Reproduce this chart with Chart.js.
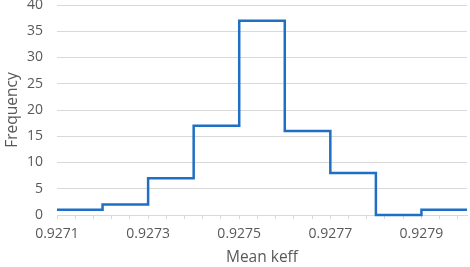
<!DOCTYPE html>
<html><head><meta charset="utf-8">
<script src="https://cdn.jsdelivr.net/npm/chart.js@4/dist/chart.umd.min.js"></script>
<style>html,body{margin:0;padding:0;background:#fff}#wrap{width:470px;height:267px}</style>
</head><body><div id="wrap"><canvas id="c"></canvas></div>
<script>
// Bin lower edges (Mean keff) and counts (Frequency)
const binEdges = [0.9271, 0.9272, 0.9273, 0.9274, 0.9275, 0.9276, 0.9277, 0.9278, 0.9279, 0.9280];
const counts   = [1, 2, 7, 17, 37, 16, 8, 0, 1];
const xMajorTicks = [0.9271, 0.9273, 0.9275, 0.9277, 0.9279];
const yTicks = [0, 5, 10, 15, 20, 25, 30, 35, 40];

// step points: value of each bin held until its right edge
const stepData = binEdges.map((x, i) => ({x: x, y: counts[Math.min(i, counts.length - 1)]}));

const FONT = "'Open Sans', 'Noto Sans', sans-serif";
new Chart(document.getElementById('c'), {
  type: 'line',
  data: { datasets: [{
    data: stepData, stepped: 'before', borderColor: '#1F6FC5', borderWidth: 2.5,
    pointRadius: 0, fill: false, clip: false
  }]},
  options: {
    responsive: true, maintainAspectRatio: false, animation: false,
    layout: { padding: { top: 5, right: 3, left: 0, bottom: 0 } },
    plugins: { legend: { display: false }, tooltip: { enabled: false } },
    scales: {
      x: {
        type: 'linear', min: binEdges[0], max: binEdges[binEdges.length - 1],
        afterBuildTicks: s => {
          const t = [];
          const step = (xMajorTicks[1] - xMajorTicks[0]) / 5;
          for (let i = 0; xMajorTicks[0] + i * step <= s.max + 1e-9; i++) t.push({ value: xMajorTicks[0] + i * step });
          s.ticks = t;
        },
        afterFit: s => { s.height = 52; s.paddingLeft = 0; s.paddingRight = 0; },
        ticks: {
          autoSkip: false, maxRotation: 0, padding: 7, color: '#595959',
          font: { family: FONT, size: 14 },
          callback: v => xMajorTicks.some(m => Math.abs(m - v) < 1e-9) ? v.toFixed(4) : ''
        },
        grid: { drawOnChartArea: false, drawTicks: true, tickLength: 4, color: '#d9d9d9' },
        border: { color: '#d9d9d9', width: 1 },
        title: { display: true, text: 'Mean keff', color: '#595959', font: { family: FONT, size: 15.5 }, padding: { top: 0, bottom: 0 } }
      },
      y: {
        min: yTicks[0], max: yTicks[yTicks.length - 1],
        afterBuildTicks: s => { s.ticks = yTicks.map(v => ({ value: v })); },
        afterFit: s => { s.width = 57; s.paddingTop = 0; s.paddingBottom = 0; },
        ticks: { color: '#595959', padding: 14, font: { family: FONT, size: 14 } },
        grid: { color: '#d9d9d9', drawTicks: false },
        border: { display: false },
        title: { display: true, text: 'Frequency', color: '#595959', font: { family: FONT, size: 15.5 }, padding: { top: 3, bottom: 0 } }
      }
    }
  }
});
</script></body></html>
